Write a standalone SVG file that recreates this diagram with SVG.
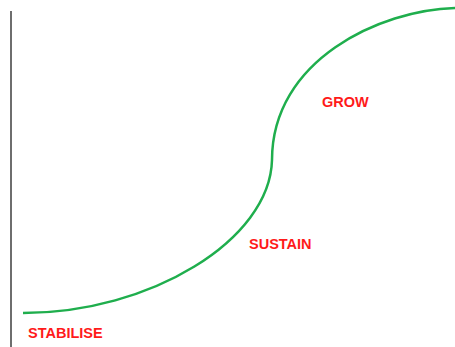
<svg xmlns="http://www.w3.org/2000/svg" width="455" height="347" viewBox="0 0 455 347">
<style>
.lbl{font-family:"Liberation Sans",Arial,sans-serif;font-weight:bold;font-size:14.5px;fill:#FF1A1A}
</style>
<rect width="455" height="347" fill="#fff"/>
<g id="axis"><line x1="11" y1="11" x2="11" y2="347" stroke="#6e6e6e" stroke-width="2"/></g>
<g id="connectors"><path d="M23,313 C150,313 270,240 272,160 C272,60 380,10 455,8" fill="none" stroke="#1fae4d" stroke-width="2.5"/></g>
<g id="stabilise"><text class="lbl" x="28" y="338">STABILISE</text></g>
<g id="sustain"><text class="lbl" x="249" y="249">SUSTAIN</text></g>
<g id="grow"><text class="lbl" x="322" y="107">GROW</text></g>
</svg>
